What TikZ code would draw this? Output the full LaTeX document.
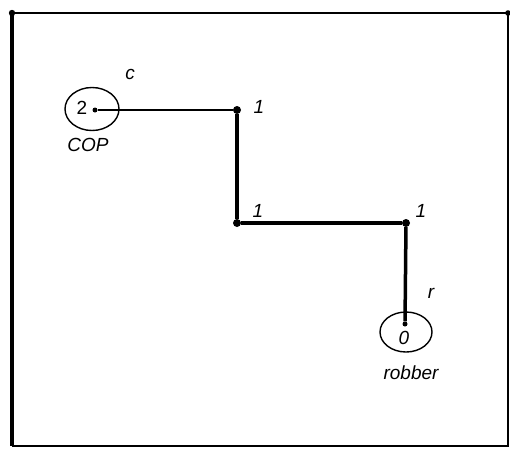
\documentclass[tikz,border=0pt]{standalone}
\usepackage{fontspec}
\setmainfont{Liberation Sans}
\usetikzlibrary{shapes.geometric}
\begin{document}
\begin{tikzpicture}[x=1pt,y=-1pt,
  vtx/.style={circle,fill=black,inner sep=0pt,minimum size=8pt},
  sdot/.style={circle,fill=black,inner sep=0pt,minimum size=5pt},
  lbl/.style={font=\fontsize{19}{22}\selectfont\itshape,inner sep=0pt},
  ring/.style={draw,ellipse,line width=1.4pt,inner sep=0pt},
  thin edge/.style={line width=1.4pt},
  thick edge/.style={line width=3.5pt}]
\useasboundingbox (0,0) rectangle (510,448);
% frame
\coordinate (tl) at (12,13);
\coordinate (tr) at (508,13);
\coordinate (br) at (508,446);
\coordinate (bl) at (12,446);
\draw[line width=2.8pt] (tl) -- (tr);
\draw[line width=3.6pt] (tl) -- (bl);
\draw[line width=1.8pt] (tr) -- (br) -- (bl);
\fill (tl) circle (3.2pt);
\fill (tr) circle (2.8pt);
% cop
\node[ring,minimum width=54pt,minimum height=43pt] (copring) at (92,109) {};
\node[sdot] (cop) at (95,110) {};
\node[font=\fontsize{19}{22}\selectfont,inner sep=0pt] (two) at (82,108) {2};
\node[lbl] (c) at (130,74) {c};
\node[lbl] (coplbl) at (88,145) {COP};
% vertices
\node[vtx] (a) at (237,110) {};
\node[vtx] (b) at (237,223) {};
\node[vtx] (d) at (406,223) {};
\node[lbl] (la) at (259,107) {1};
\node[lbl] (lb) at (258,211) {1};
\node[lbl] (ld) at (421,211) {1};
% robber
\node[ring,minimum width=52pt,minimum height=40pt] (robring) at (406,332) {};
\node[sdot] (rob) at (405,324) {};
\node[lbl] (zero) at (404,338) {0};
\node[lbl] (r) at (431,293) {r};
\node[lbl] (roblbl) at (411,373) {robber};
% edges
\draw[thin edge] (cop) -- (a);
\draw[thick edge] (a) -- (b);
\draw[thick edge] (b) -- (d);
\draw[thick edge] (d) -- (rob);
\end{tikzpicture}
\end{document}
